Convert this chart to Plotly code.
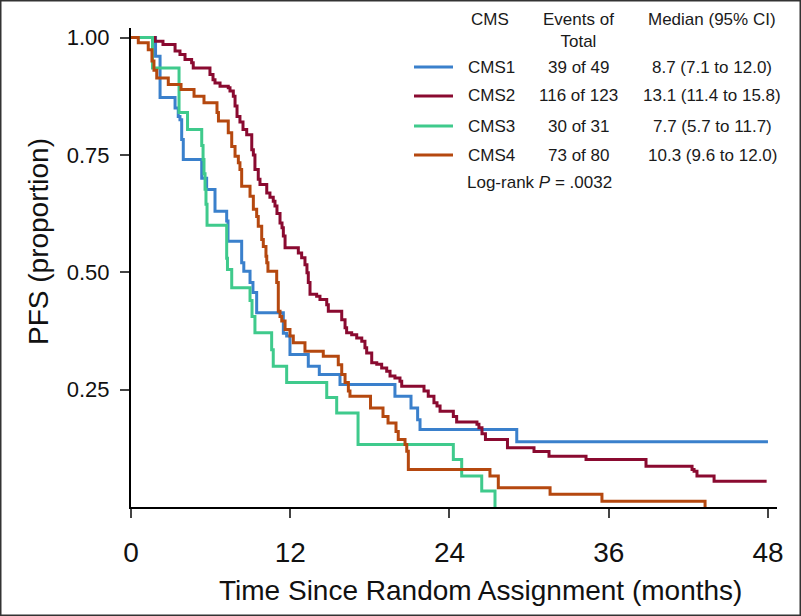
import plotly.graph_objects as go

# Kaplan-Meier step values (months, proportion)
cms1_t = [0, 1.85, 2.19, 3.32, 3.56, 3.69, 3.82, 3.94, 5.33, 5.70, 6.33, 7.21, 7.31, 8.34, 8.50,
          8.97, 9.19, 9.47, 11.48, 11.73, 11.98, 13.36, 14.19, 15.75, 19.89, 21.10, 21.60, 21.78,
          29.07, 48.0]
cms1_s = [1.0, 0.96, 0.872, 0.85, 0.832, 0.825, 0.783, 0.74, 0.70, 0.676, 0.63, 0.609, 0.566, 0.52, 0.502,
          0.478, 0.457, 0.414, 0.37, 0.364, 0.325, 0.30, 0.282, 0.261, 0.236, 0.211, 0.186, 0.165,
          0.139, 0.139]

cms2_t = [0, 1.81, 2.41, 3.32, 3.69, 4.07, 4.57, 4.69, 5.95, 6.18, 6.33, 6.71, 7.33, 7.46, 7.71, 7.84,
          7.99, 8.21, 8.44, 8.72, 9.10, 9.22, 9.34, 9.59, 9.72, 10.23, 10.47, 10.72, 10.85, 11.0,
          11.23, 11.38, 11.48, 11.61, 12.61, 12.86, 13.11, 13.26, 13.36, 13.49, 13.99, 14.24, 14.75,
          14.87, 15.88, 16.13, 16.25, 16.63, 17.01, 17.39, 17.63, 17.76, 18.14, 18.52, 18.89, 19.27,
          19.52, 19.89, 20.27, 20.40, 22.08, 22.40, 22.83, 23.06, 23.29, 24.29, 24.54, 26.07, 26.22,
          26.45, 26.71, 28.37, 30.37, 31.50, 34.29, 38.81, 42.28, 42.43, 42.65, 43.94, 47.9]
cms2_s = [1.0, 0.992, 0.985, 0.971, 0.964, 0.953, 0.946, 0.935, 0.921, 0.91, 0.903, 0.896, 0.893, 0.886,
          0.875, 0.854, 0.832, 0.82, 0.804, 0.793, 0.761, 0.75, 0.719, 0.698, 0.687, 0.669, 0.66, 0.651,
          0.641, 0.625, 0.605, 0.595, 0.577, 0.552, 0.541, 0.531, 0.516, 0.499, 0.478, 0.453, 0.449,
          0.442, 0.431, 0.417, 0.399, 0.382, 0.371, 0.367, 0.36, 0.353, 0.339, 0.328, 0.307, 0.304,
          0.296, 0.289, 0.279, 0.275, 0.268, 0.257, 0.247, 0.236, 0.222, 0.215, 0.204, 0.193, 0.181,
          0.176, 0.169, 0.156, 0.144, 0.126, 0.118, 0.108, 0.101, 0.087, 0.080, 0.076, 0.066, 0.055,
          0.055]

cms3_t = [0, 1.62, 3.62, 4.26, 5.33, 5.43, 5.50, 5.58, 5.65, 5.73, 7.21, 7.27, 7.59, 8.97, 9.12, 9.34,
          10.60, 10.72, 11.73, 14.75, 15.50, 17.11, 24.29, 24.92, 26.43, 27.43]
cms3_s = [1.0, 0.935, 0.84, 0.804, 0.77, 0.74, 0.71, 0.677, 0.645, 0.60, 0.53, 0.506, 0.467, 0.44, 0.406,
          0.371, 0.335, 0.30, 0.265, 0.233, 0.20, 0.133, 0.101, 0.066, 0.034, 0.0]

cms4_t = [0, 0.55, 1.30, 1.58, 1.73, 1.94, 2.81, 3.77, 4.75, 5.50, 6.48, 6.59, 7.33, 7.59, 7.84, 8.09,
          8.21, 8.34, 8.97, 9.22, 9.47, 9.59, 9.85, 9.97, 10.17, 10.23, 10.32, 10.98, 11.10, 11.23,
          11.36, 11.61, 11.98, 12.23, 13.11, 14.49, 15.62, 15.88, 16.13, 16.38, 16.50, 18.05, 18.99,
          19.37, 19.97, 20.14, 20.65, 20.78, 20.90, 27.05, 27.68, 31.58, 35.49, 43.26]
cms4_s = [1.0, 0.989, 0.974, 0.95, 0.93, 0.914, 0.90, 0.889, 0.875, 0.861, 0.84, 0.822, 0.797, 0.768,
          0.747, 0.733, 0.719, 0.683, 0.662, 0.634, 0.619, 0.598, 0.57, 0.555, 0.534, 0.52, 0.502, 0.478,
          0.417, 0.406, 0.396, 0.378, 0.364, 0.35, 0.332, 0.321, 0.303, 0.282, 0.265, 0.247, 0.236,
          0.211, 0.193, 0.179, 0.161, 0.144, 0.133, 0.119, 0.08, 0.066, 0.041, 0.027, 0.012, 0.0]

groups = ["CMS1", "CMS2", "CMS3", "CMS4"]
events = ["39 of 49", "116 of 123", "30 of 31", "73 of 80"]
medians = ["8.7 (7.1 to 12.0)", "13.1 (11.4 to 15.8)", "7.7 (5.7 to 11.7)", "10.3 (9.6 to 12.0)"]
colors = ["#3a80cc", "#8a0a30", "#3fca8c", "#b5480f"]

x_ticks = [0, 12, 24, 36, 48]
y_ticks = [0.25, 0.50, 0.75, 1.00]
y_tick_text = ["0.25", "0.50", "0.75", "1.00"]

W, H = 801, 616
L, R, T, B = 131, 24, 28, 109
PW, PH = W - L - R, H - T - B

SANS = "Liberation Sans, Arial, Helvetica, sans-serif"


def px_x(px):
    return (px - L) / PW


def px_y(py):
    return (H - B - py) / PH


fig = go.Figure()
for name, t, s, c in zip(groups, [cms1_t, cms2_t, cms3_t, cms4_t],
                         [cms1_s, cms2_s, cms3_s, cms4_s], colors):
    fig.add_trace(go.Scatter(x=t, y=s, mode="lines", name=name,
                             line=dict(color=c, width=3, shape="hv"),
                             showlegend=False, cliponaxis=False))

# legend table
row_y = [67, 96, 126, 155]
ann = []
hdr = dict(xref="paper", yref="paper", showarrow=False, yanchor="middle",
           font=dict(family=SANS, size=17, color="#1a1a1a"))
ann.append(dict(hdr, x=px_x(490), y=px_y(20), text="CMS", xanchor="center"))
ann.append(dict(hdr, x=px_x(578), y=px_y(31), text="Events of<br>Total", xanchor="center"))
ann.append(dict(hdr, x=px_x(712), y=px_y(20), text="Median (95% CI)", xanchor="center"))
for i, ry in enumerate(row_y):
    ann.append(dict(hdr, x=px_x(466), y=px_y(ry), text=groups[i], xanchor="left"))
    ann.append(dict(hdr, x=px_x(578), y=px_y(ry), text=events[i], xanchor="center"))
    ann.append(dict(hdr, x=px_x(712), y=px_y(ry), text=medians[i], xanchor="center"))
    fig.add_shape(type="line", xref="paper", yref="paper",
                  x0=px_x(414), x1=px_x(453), y0=px_y(ry), y1=px_y(ry),
                  line=dict(color=colors[i], width=3))
ann.append(dict(hdr, x=px_x(465), y=px_y(183), text="Log-rank <i>P</i> = .0032", xanchor="left"))

# axis titles
ann.append(dict(xref="paper", yref="paper", showarrow=False, x=px_x(480), y=px_y(590),
                xanchor="center", yanchor="middle", text="Time Since Random Assignment (months)",
                font=dict(family=SANS, size=28, color="#111111")))
ann.append(dict(xref="paper", yref="paper", showarrow=False, x=px_x(38), y=px_y(242),
                xanchor="center", yanchor="middle", textangle=-90, text="PFS (proportion)",
                font=dict(family=SANS, size=28, color="#111111")))

# outer frame
fig.add_shape(type="rect", xref="paper", yref="paper", x0=px_x(0.75), x1=px_x(800.25),
              y0=px_y(615.25), y1=px_y(0.75), line=dict(color="#333333", width=1.5))

fig.update_layout(
    width=W, height=H, margin=dict(l=L, r=R, t=T, b=B, autoexpand=False),
    paper_bgcolor="white", plot_bgcolor="white",
    annotations=ann,
    xaxis=dict(range=[0, PW / 13.27], tickvals=x_ticks, ticks="outside", ticklen=9, tickwidth=2,
               showline=True, linecolor="black", linewidth=2, showgrid=False, zeroline=False,
               automargin=False,
               tickfont=dict(family=SANS, size=28, color="#111111"), ticklabelstandoff=10),
    yaxis=dict(range=[0, PH / 469.5], tickvals=y_ticks, ticktext=y_tick_text, ticks="outside",
               ticklen=9, tickwidth=2, showline=True, linecolor="black", linewidth=2,
               showgrid=False, zeroline=False, automargin=False,
               tickfont=dict(family=SANS, size=22, color="#111111"), ticklabelstandoff=6),
)

fig.write_html("out.html", config={"displayModeBar": False},
               post_script="document.body.style.margin='0px';")
